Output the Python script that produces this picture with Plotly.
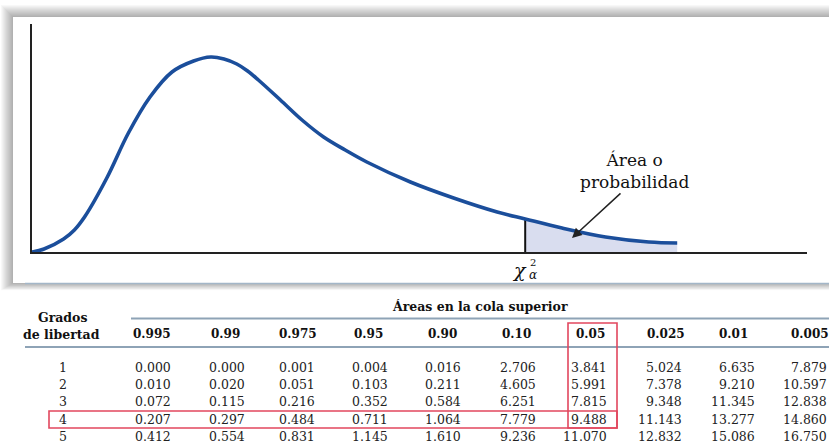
import plotly.graph_objects as go

# ---------------- data ----------------
# chi-square density curve (x in chi-square units, y density)
curve_x = [0, 0.30, 0.79, 1.06, 1.33, 1.87, 2.41, 2.95, 3.5, 4.04, 4.47, 4.80, 5.12, 5.39, 5.66,
           6.21, 6.75, 7.29, 7.83, 8.37, 9.46, 10.54, 11.63, 12.33, 13.25, 14.34, 15.42, 16.13]
curve_y = [0, 0.003, 0.013, 0.022, 0.036, 0.074, 0.119, 0.155, 0.180, 0.191, 0.195, 0.193, 0.188,
           0.181, 0.172, 0.152, 0.132, 0.115, 0.102, 0.090, 0.070, 0.054, 0.040, 0.033, 0.024,
           0.015, 0.010, 0.009]
crit_index = 23  # position of chi^2_alpha in the curve arrays

df_labels = ["1", "2", "3", "4", "5"]
col_headers = ["0.995", "0.99", "0.975", "0.95", "0.90", "0.10", "0.05", "0.025", "0.01", "0.005"]
table_rows = [
    ["0.000", "0.000", "0.001", "0.004", "0.016", "2.706", "3.841", "5.024", "6.635", "7.879"],
    ["0.010", "0.020", "0.051", "0.103", "0.211", "4.605", "5.991", "7.378", "9.210", "10.597"],
    ["0.072", "0.115", "0.216", "0.352", "0.584", "6.251", "7.815", "9.348", "11.345", "12.838"],
    ["0.207", "0.297", "0.484", "0.711", "1.064", "7.779", "9.488", "11.143", "13.277", "14.860"],
    ["0.412", "0.554", "0.831", "1.145", "1.610", "9.236", "11.070", "12.832", "15.086", "16.750"],
]

# ---------------- layout helpers ----------------
W, H = 829, 443
def px(x):
    return x / W
def py(y):
    return 1 - y / H

SERIF = "DejaVu Serif"
BLUE = "#1b4e9b"
FILL = "#d9ddef"
RED = "#e2475e"
RULE = "#8ea3b6"

fig = go.Figure()

# shaded tail
fig.add_trace(go.Scatter(
    x=curve_x[crit_index:], y=curve_y[crit_index:], mode="lines",
    line=dict(width=0, shape="spline", smoothing=1.0, color=FILL), fill="tozeroy", fillcolor=FILL,
    hoverinfo="skip", showlegend=False))
# vertical critical line
fig.add_trace(go.Scatter(
    x=[curve_x[crit_index], curve_x[crit_index]], y=[0, curve_y[crit_index]], mode="lines",
    line=dict(width=2, color="#111"), hoverinfo="skip", showlegend=False))
# curve
fig.add_trace(go.Scatter(
    x=curve_x, y=curve_y, mode="lines",
    line=dict(width=3.6, color=BLUE, shape="spline", smoothing=1.0),
    hoverinfo="skip", showlegend=False))

shapes = []
# panel shadow
for k in range(12, 0, -1):
    shapes.append(dict(type="rect", xref="paper", yref="paper", layer="below",
                       x0=px(13 - k), x1=px(860), y0=py(283 + k * 0.6), y1=py(17 - k),
                       line=dict(width=0), fillcolor="rgba(0,0,0,0.028)"))
shapes.append(dict(type="rect", xref="paper", yref="paper", layer="below",
                   x0=px(13), x1=px(860), y0=py(283), y1=py(17),
                   line=dict(width=0), fillcolor="white"))
shapes.append(dict(type="line", xref="paper", yref="paper", layer="below",
                   x0=px(25), x1=px(829), y0=py(283.5), y1=py(283.5),
                   line=dict(width=1.5, color="#a3b6c8")))
# table rules
shapes.append(dict(type="line", xref="paper", yref="paper",
                   x0=px(131), x1=px(829), y0=py(318.5), y1=py(318.5),
                   line=dict(width=2, color=RULE)))
shapes.append(dict(type="line", xref="paper", yref="paper",
                   x0=px(25), x1=px(829), y0=py(347), y1=py(347),
                   line=dict(width=2, color=RULE)))
# red highlight boxes
shapes.append(dict(type="rect", xref="paper", yref="paper",
                   x0=px(49), x1=px(617), y0=py(428), y1=py(411),
                   line=dict(width=1.6, color=RED)))
shapes.append(dict(type="rect", xref="paper", yref="paper",
                   x0=px(568), x1=px(617), y0=py(428), y1=py(323),
                   line=dict(width=1.6, color=RED)))

annotations = []
# curve labels
annotations.append(dict(x=curve_x[crit_index], y=py(270), xref="x", yref="paper",
                        text="<i>χ</i>", showarrow=False, xanchor="center", yanchor="middle",
                        xshift=-6, font=dict(family=SERIF, size=19, color="#111")))
annotations.append(dict(x=curve_x[crit_index], y=py(262), xref="x", yref="paper",
                        text="2", showarrow=False, xanchor="left", yanchor="middle",
                        xshift=3, font=dict(family=SERIF, size=10, color="#111")))
annotations.append(dict(x=curve_x[crit_index], y=py(275), xref="x", yref="paper",
                        text="<i>α</i>", showarrow=False, xanchor="left", yanchor="middle",
                        xshift=2, font=dict(family=SERIF, size=12, color="#111")))
annotations.append(dict(x=px(634), y=py(171), xref="paper", yref="paper",
                        text="Área o<br>probabilidad", showarrow=False,
                        xanchor="center", yanchor="middle", align="center",
                        font=dict(family=SERIF, size=17, color="#111")))
annotations.append(dict(x=13.5, y=0.014, xref="x", yref="y", ax=50, ay=-46,
                        text="", showarrow=True, arrowhead=2, arrowsize=1.3,
                        arrowwidth=1.5, arrowcolor="#222"))

# table headers
annotations.append(dict(x=px(63), y=py(317), xref="paper", yref="paper",
                        text="<b>Grados</b>", showarrow=False, xanchor="center", yanchor="middle",
                        font=dict(family=SERIF, size=12.5, color="#111")))
annotations.append(dict(x=px(61), y=py(334), xref="paper", yref="paper",
                        text="<b>de libertad</b>", showarrow=False, xanchor="center", yanchor="middle",
                        font=dict(family=SERIF, size=12.5, color="#111")))
annotations.append(dict(x=px(480), y=py(306), xref="paper", yref="paper",
                        text="<b>Áreas en la cola superior</b>", showarrow=False,
                        xanchor="center", yanchor="middle",
                        font=dict(family=SERIF, size=12.5, color="#111")))

header_centers = [152, 225, 298, 368, 443, 516, 590, 666, 733, 810]
value_right = [173, 247, 317, 390, 463, 538, 609, 684, 757, 829]
row_y = [367, 384, 401.5, 419, 436]

for j, h in enumerate(col_headers):
    annotations.append(dict(x=px(header_centers[j]), y=py(334), xref="paper", yref="paper",
                            text=f"<b>{h}</b>", showarrow=False, xanchor="center", yanchor="middle",
                            font=dict(family=SERIF, size=12, color="#111")))
for i, row in enumerate(table_rows):
    annotations.append(dict(x=px(63), y=py(row_y[i]), xref="paper", yref="paper",
                            text=df_labels[i], showarrow=False, xanchor="center", yanchor="middle",
                            font=dict(family=SERIF, size=12.5, color="#222")))
    for j, v in enumerate(row):
        annotations.append(dict(x=px(value_right[j]), y=py(row_y[i]), xref="paper", yref="paper",
                                text=v, showarrow=False, xanchor="right", yanchor="middle",
                                font=dict(family=SERIF, size=12.5, color="#222")))

fig.update_layout(
    width=W, height=H, margin=dict(l=0, r=0, t=0, b=0),
    paper_bgcolor="white", plot_bgcolor="rgba(0,0,0,0)",
    shapes=shapes, annotations=annotations, showlegend=False,
    xaxis=dict(domain=[px(32), px(807)], range=[0, 19.375], showgrid=False, zeroline=False,
               showticklabels=False, ticks="", showline=True, linewidth=2, linecolor="#222",
               fixedrange=True),
    yaxis=dict(domain=[py(252), py(24)], range=[0, 0.228], showgrid=False, zeroline=False,
               showticklabels=False, ticks="", showline=True, linewidth=2, linecolor="#222",
               fixedrange=True),
)

fig.write_html(
    "out.html",
    config={"displayModeBar": False},
    post_script="document.body.style.margin='0';document.body.style.overflow='hidden';",
)
